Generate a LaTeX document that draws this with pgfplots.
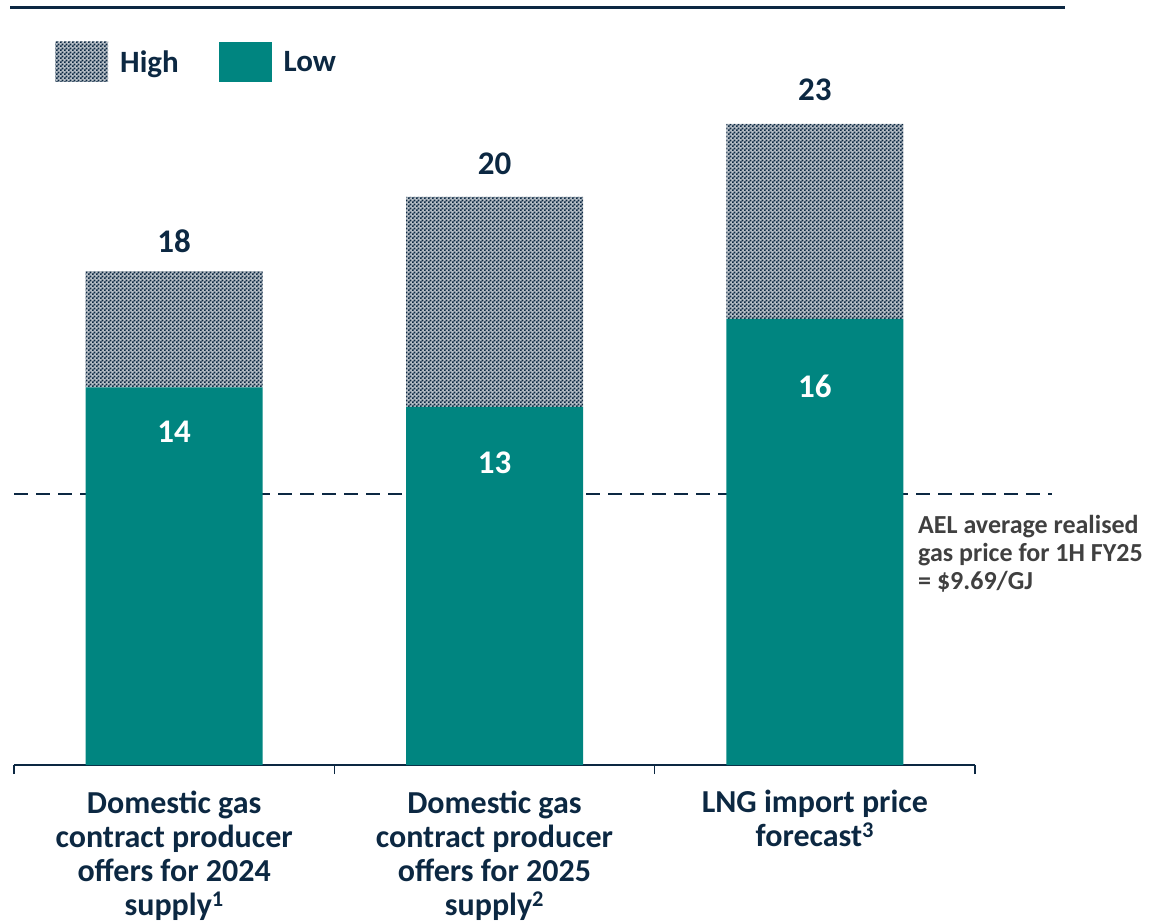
\documentclass[border=0pt]{standalone}
\usepackage{pgfplots}
\pgfplotsset{compat=1.18}
\usepackage{fontspec}
\setmainfont{Carlito}
\usetikzlibrary{patterns}
\definecolor{navy}{RGB}{12,40,66}
\definecolor{aelteal}{RGB}{0,133,128}
\definecolor{notegrey}{RGB}{64,64,64}
\pgfdeclarepatternformonly{finecheck}{\pgfpointorigin}{\pgfqpoint{4pt}{4pt}}{\pgfqpoint{4pt}{4pt}}{%
  \pgfpathrectangle{\pgfpointorigin}{\pgfqpoint{2.1pt}{2.1pt}}%
  \pgfpathrectangle{\pgfqpoint{2pt}{2pt}}{\pgfqpoint{2.1pt}{2.1pt}}%
  \pgfusepath{fill}}
\pgfplotsset{
  swatch/.style={legend image code/.code={\fill[##1] (0pt,-20pt) rectangle (53pt,20pt);}},
  frame/.style={at={(14pt,-765pt)}, anchor=south west,
    scale only axis, width=961pt, height=699.25pt,
    xmin=-0.5, xmax=2.5, ymin=0, ymax=25, clip=false},
  highfill/.style={draw=none, fill=navy!30, postaction={pattern=finecheck, pattern color=navy}},
}

\begin{document}
\begin{tikzpicture}[x=1pt,y=1pt]
\path[use as bounding box] (0,0) rectangle (1153,-923);
\draw[navy, line width=3pt] (10,-8) -- (1065,-8);

% reference line underneath the bars
\begin{axis}[frame, hide axis]
\addplot[navy, line width=1.6pt, dash pattern=on 14pt off 8pt] coordinates {(-0.5,9.69) (2.74,9.69)};
\end{axis}

\begin{axis}[frame,
  ybar stacked, bar width=177pt,
  axis x line=bottom, axis y line=none,
  axis line style={-, navy, line width=2pt},
  xtick={0,1,2},
  xticklabels={{Domestic gas\\contract producer\\offers for 2024\\supply\textsuperscript{1}},
               {Domestic gas\\contract producer\\offers for 2025\\supply\textsuperscript{2}},
               {LNG import price\\forecast\textsuperscript{3}}},
  xticklabel style={align=center, text=navy, yshift=-13pt,
    font=\fontsize{32}{34}\selectfont\bfseries},
  xtick style={draw=none},
  major tick length=9pt, tick align=outside,
  extra x ticks={-0.5,0.5,1.5,2.5}, extra x tick labels={},
  extra x tick style={xtick style={draw=navy, line width=1.6pt}},
  legend style={draw=none, fill=none, inner sep=0pt, legend columns=2,
    at={(axis description cs:0.0427,1.0054)}, anchor=west,
    font=\fontsize{31}{34}\selectfont\bfseries, text=navy,
    /tikz/every odd column/.style={column sep=10pt},
    /tikz/every even column/.style={column sep=38pt}},
]
\addlegendimage{swatch, highfill}
\addlegendimage{swatch, draw=none, fill=aelteal}
\legend{High, Low}

\addplot[fill=aelteal, draw=none] coordinates {(0,13.5) (1,12.8) (2,15.95)};
\addplot[highfill] coordinates {(0,4.16) (1,7.51) (2,6.97)};
\end{axis}

% value labels and note on top
\begin{axis}[frame, hide axis]
\node[text=navy, font=\fontsize{33}{34}\selectfont\bfseries] at (axis cs:0,18.73) {18};
\node[text=navy, font=\fontsize{33}{34}\selectfont\bfseries] at (axis cs:1,21.49) {20};
\node[text=navy, font=\fontsize{33}{34}\selectfont\bfseries] at (axis cs:2,24.13) {23};
\node[text=white, font=\fontsize{33}{34}\selectfont\bfseries] at (axis cs:0,11.91) {14};
\node[text=white, font=\fontsize{33}{34}\selectfont\bfseries] at (axis cs:1,10.80) {13};
\node[text=white, font=\fontsize{33}{34}\selectfont\bfseries] at (axis cs:2,13.55) {16};

\node[anchor=north west, align=left, text=notegrey, inner sep=0pt,
  font=\fontsize{26}{28}\selectfont\bfseries] at (axis cs:2.322,8.92)
  {AEL average realised\\gas price for 1H FY25\\= \$9.69/GJ};
\end{axis}
\end{tikzpicture}
\end{document}
